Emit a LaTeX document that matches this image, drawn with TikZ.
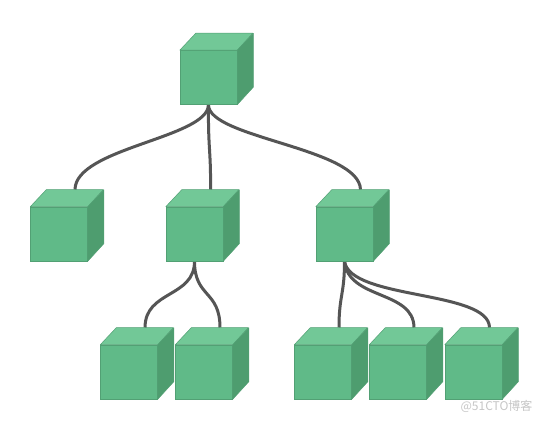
\documentclass[tikz,border=0pt]{standalone}
\usepackage{fontspec}
\newfontfamily\cjk{Noto Sans CJK SC}
\usetikzlibrary{backgrounds}
\definecolor{frontc}{RGB}{96,186,136}
\definecolor{topc}{RGB}{114,200,151}
\definecolor{sidec}{RGB}{78,157,111}
\definecolor{edgec}{RGB}{82,160,116}
\definecolor{linkc}{RGB}{85,85,85}
\tikzset{
  cube/.style={draw=edgec, line width=0.5pt, fill=frontc, inner sep=0pt,
    minimum width=57pt, minimum height=54pt},
  link/.style={draw=linkc, line width=3pt}
}
\begin{document}
\begin{tikzpicture}[x=1pt,y=-1pt]
\useasboundingbox (0,0) rectangle (560,430);
% cubes (front faces)
\node[cube] (t) at (208.5,77.5) {};
\node[cube] (a) at (59,234) {};
\node[cube] (b) at (194.5,234) {};
\node[cube] (c) at (344.5,234) {};
\node[cube] (d) at (129,372) {};
\node[cube] (e) at (204,372) {};
\node[cube] (f) at (323,372) {};
\node[cube] (g) at (398,372) {};
\node[cube] (h) at (473.5,372) {};
% top and side faces
\foreach \n in {t,a,b,c,d,e,f,g,h}{
  \filldraw[fill=topc, draw=edgec, line width=0.5pt, line join=round]
    (\n.north west) -- ++(16,-17) -- ++(57,0) -- (\n.north east) -- cycle;
  \filldraw[fill=sidec, draw=edgec, line width=0.5pt, line join=round]
    (\n.north east) -- ++(16,-17) -- ++(0,54) -- (\n.south east) -- cycle;
}
\coordinate (atop) at ([shift={(16,-17)}]a.north);
\coordinate (btop) at ([shift={(16,-17)}]b.north);
\coordinate (ctop) at ([shift={(16,-17)}]c.north);
\coordinate (dtop) at ([shift={(16,-17)}]d.north);
\coordinate (etop) at ([shift={(16,-17)}]e.north);
\coordinate (ftop) at ([shift={(16,-17)}]f.north);
\coordinate (gtop) at ([shift={(16,-17)}]g.north);
\coordinate (htop) at ([shift={(16,-17)}]h.north);
% connectors
\begin{scope}[on background layer]
\fill[white] (0,0) rectangle (560,430);
\draw[link] (t.south) .. controls (208,138) and (75,148) .. (atop);
\draw[link] (t.south) .. controls (208,150) and (211,150) .. (btop);
\draw[link] (t.south) .. controls (208,138) and (360,148) .. (ctop);
\draw[link] (b.south) .. controls (194.5,298) and (145,290) .. (dtop);
\draw[link] (b.south) .. controls (194.5,298) and (220,290) .. (etop);
\draw[link] (c.south) .. controls (344.5,295) and (339,295) .. (ftop);
\draw[link] (c.south) .. controls (348,300) and (414,290) .. (gtop);
\draw[link] (c.south) .. controls (350,300) and (489.5,290) .. (htop);
\end{scope}
\node[text=black!22, font=\cjk\fontsize{12}{14}\selectfont, anchor=east] (wm) at (536,406) {@51CTO博客};
\end{tikzpicture}
\end{document}
